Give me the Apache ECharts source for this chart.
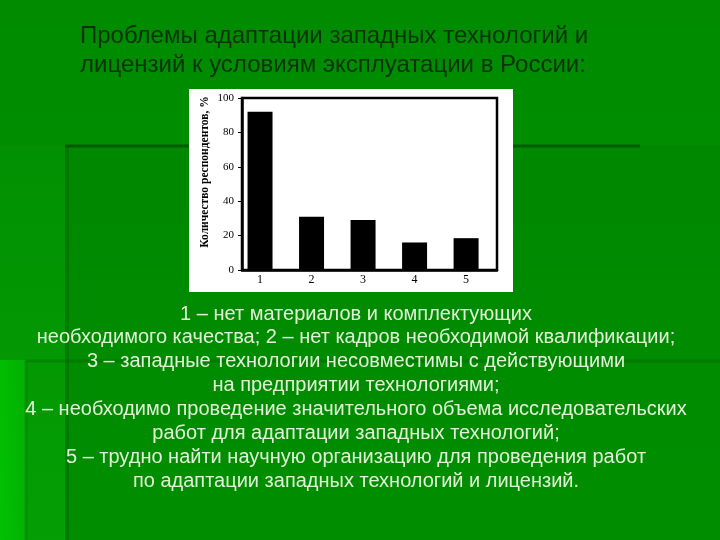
<!DOCTYPE html>
<html>
<head>
<meta charset="utf-8">
<script src="https://cdn.jsdelivr.net/npm/echarts@6/dist/echarts.min.js"></script>
<style>
  html, body { margin: 0; padding: 0; }
  #chart { width: 720px; height: 540px; }
</style>
</head>
<body>
<div id="chart"></div>
<script>
const categories = [1, 2, 3, 4, 5]
const respondents = [92, 31, 29, 16, 18.5]
const yTicks = [0, 20, 40, 60, 80, 100]

const titleLines = [
  'Проблемы адаптации западных технологий и',
  'лицензий к условиям эксплуатации в России:'
]
const legendLines = [
  '1 – нет материалов и комплектующих',
  'необходимого качества; 2 – нет кадров необходимой квалификации;',
  '3 – западные технологии несовместимы с действующими',
  'на предприятии технологиями;',
  '4 – необходимо проведение значительного объема исследовательских',
  'работ для адаптации западных технологий;',
  '5 – трудно найти научную организацию для проведения работ',
  'по адаптации западных технологий и лицензий.'
]

const chart = echarts.init(document.getElementById('chart'))

const bg = [
  {
    type: 'rect', z: -10, silent: true,
    shape: { x: 0, y: 0, width: 720, height: 540 },
    style: {
      fill: new echarts.graphic.LinearGradient(0, 0, 0, 1, [
        { offset: 0, color: '#008b00' },
        { offset: 1, color: '#009300' }
      ])
    }
  },
  {
    type: 'rect', z: -9, silent: true,
    shape: { x: 0, y: 145, width: 66, height: 395 },
    style: {
      fill: new echarts.graphic.LinearGradient(0, 0, 0, 1, [
        { offset: 0, color: 'rgba(20,200,20,0.05)' },
        { offset: 1, color: 'rgba(20,200,20,0.22)' }
      ])
    }
  },
  {
    type: 'rect', z: -9, silent: true,
    shape: { x: 0, y: 360, width: 26, height: 180 },
    style: {
      fill: new echarts.graphic.LinearGradient(0, 0, 1, 0, [
        { offset: 0, color: 'rgba(0,215,0,0.6)' },
        { offset: 1, color: 'rgba(0,215,0,0.35)' }
      ])
    }
  },
  {
    type: 'rect', z: -9, silent: true,
    shape: { x: 65, y: 145, width: 655, height: 395 },
    style: { fill: 'rgba(0,50,0,0.05)' }
  },
  {
    type: 'line', z: -8, silent: true,
    shape: { x1: 65, y1: 146, x2: 640, y2: 146 },
    style: { stroke: 'rgba(0,55,0,0.55)', lineWidth: 3 }
  },
  {
    type: 'line', z: -8, silent: true,
    shape: { x1: 67, y1: 146, x2: 67, y2: 540 },
    style: { stroke: 'rgba(0,80,0,0.30)', lineWidth: 4 }
  },
  {
    type: 'line', z: -8, silent: true,
    shape: { x1: 25, y1: 361, x2: 720, y2: 361 },
    style: { stroke: 'rgba(0,70,0,0.22)', lineWidth: 3 }
  },
  {
    type: 'line', z: -8, silent: true,
    shape: { x1: 26, y1: 361, x2: 26, y2: 540 },
    style: { stroke: 'rgba(0,90,0,0.25)', lineWidth: 3 }
  },
  {
    type: 'rect', z: -5, silent: true,
    shape: { x: 189, y: 89, width: 324, height: 203 },
    style: { fill: '#ffffff' }
  }
]

const texts = []
titleLines.forEach((t, i) => {
  texts.push({
    type: 'text', x: 80, y: 36 + i * 29,
    style: {
      text: t, fill: '#0c320c', verticalAlign: 'middle',
      font: '24px "Liberation Sans", Arial, sans-serif'
    }
  })
})
legendLines.forEach((t, i) => {
  texts.push({
    type: 'text', x: 356, y: 314 + i * 23.9,
    style: {
      text: t, fill: '#e2f2d8', align: 'center', verticalAlign: 'middle',
      font: '20px "Liberation Sans", Arial, sans-serif'
    }
  })
})

const serif = '"Liberation Serif", "DejaVu Serif", serif'

chart.setOption({
  animation: false,
  grid: {
    left: 242, right: 223, top: 98, bottom: 270,
    show: true, borderColor: '#000', borderWidth: 2.5, backgroundColor: '#fff'
  },
  xAxis: {
    type: 'value',
    min: 0.65, max: 5.6,
    axisLine: { show: true, lineStyle: { color: '#000', width: 2.5 } },
    axisTick: { show: false },
    splitLine: { show: false },
    axisLabel: {
      color: '#000', fontFamily: serif, fontSize: 12, margin: 4,
      customValues: categories
    }
  },
  yAxis: {
    type: 'value',
    min: 0, max: 100, interval: 20,
    name: 'Количество респондентов, %',
    nameLocation: 'middle',
    nameRotate: 90,
    nameGap: 31,
    nameTextStyle: {
      color: '#000', fontFamily: serif, fontSize: 11.5, fontWeight: 'bold',
      padding: [0, 0, 0, 24]
    },
    axisLine: { show: true, lineStyle: { color: '#000', width: 2.5 } },
    axisTick: { show: true, length: 4, lineStyle: { color: '#000' } },
    splitLine: { show: false },
    axisLabel: {
      color: '#000', fontFamily: serif, fontSize: 11, margin: 8,
      formatter: v => (yTicks.includes(v) ? String(v) : '')
    }
  },
  series: [{
    type: 'bar',
    data: categories.map((c, i) => [c, respondents[i]]),
    barWidth: 25,
    itemStyle: { color: '#000' }
  }],
  graphic: bg.concat(texts)
})
</script>
</body>
</html>
